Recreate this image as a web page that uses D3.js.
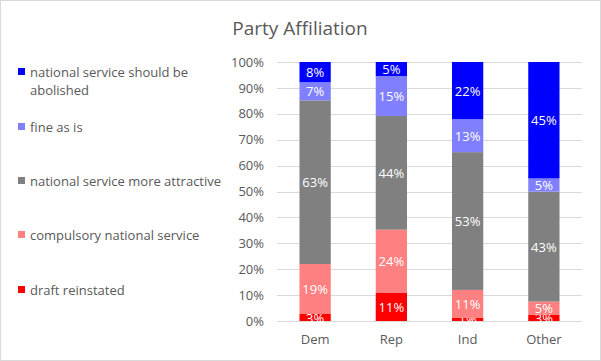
<!DOCTYPE html>
<html>
<head>
<meta charset="utf-8">
<script src="https://cdn.jsdelivr.net/npm/d3@7"></script>
<style>
  body { margin: 0; background: #fff; }
  text { font-family: "Open Sans", "Liberation Sans", sans-serif; }
</style>
</head>
<body>
<svg id="chart" width="601" height="361"></svg>
<script>
// data (percent)
var parties = ["Dem", "Rep", "Ind", "Other"];
var seriesNames = ["draft reinstated", "compulsory national service", "national service more attractive", "fine as is", "national service should be abolished"];
var draftReinstated = [2.7, 10.8, 1.2, 2.5];
var compulsory = [19.3, 24.4, 10.8, 5.0];
var moreAttractive = [63.2, 43.8, 53.2, 42.5];
var fineAsIs = [7.0, 15.4, 12.7, 5.1];
var abolished = [7.8, 5.4, 22.1, 45.0];
var colors = ["#ff0000", "#ff8080", "#808080", "#8080ff", "#0000ff"];
var yTicks = [0, 0.1, 0.2, 0.3, 0.4, 0.5, 0.6, 0.7, 0.8, 0.9, 1];

var allSeries = [draftReinstated, compulsory, moreAttractive, fineAsIs, abolished];
var rows = parties.map(function(p, i) {
  var r = { party: p };
  seriesNames.forEach(function(s, j) { r[s] = allSeries[j][i]; });
  return r;
});

var svg = d3.select("#chart");

// chart border
svg.append("rect").attr("x", 0.5).attr("y", 0.5).attr("width", 600).attr("height", 360)
  .attr("fill", "#fff").attr("stroke", "#d9d9d9");

svg.append("text").attr("x", 300).attr("y", 35).attr("text-anchor", "middle")
  .attr("font-size", 19).attr("fill", "#595959").text("Party Affiliation");

var x = d3.scaleBand().domain(parties).range([277, 582]).paddingInner(0.59).paddingOuter(0.295);
var y = d3.scaleLinear().domain([0, 1]).range([321, 62]);

// gridlines
svg.append("g").selectAll("line").data(yTicks).enter().append("line")
  .attr("x1", 277).attr("x2", 582)
  .attr("y1", d => Math.round(y(d)) + 0.5).attr("y2", d => Math.round(y(d)) + 0.5)
  .attr("stroke", "#d9d9d9");

var yAxis = svg.append("g").attr("transform", "translate(270,0)")
  .call(d3.axisLeft(y).tickValues(yTicks).tickFormat(d3.format(".0%")).tickSize(0).tickPadding(6));
yAxis.select(".domain").remove();
yAxis.selectAll("text").attr("font-size", 13).attr("fill", "#595959")
  .style("font-family", "'Open Sans', 'Liberation Sans', sans-serif");

var xAxis = svg.append("g").attr("transform", "translate(0,321)")
  .call(d3.axisBottom(x).tickSize(0).tickPadding(14));
xAxis.select(".domain").remove();
xAxis.selectAll("text").attr("font-size", 13).attr("fill", "#595959")
  .style("font-family", "'Open Sans', 'Liberation Sans', sans-serif");

var stack = d3.stack().keys(seriesNames).offset(d3.stackOffsetExpand);
var layers = stack(rows);

var groups = svg.append("g").selectAll("g").data(layers).enter().append("g")
  .attr("fill", (d, i) => colors[i]);

groups.selectAll("rect").data(d => d).enter().append("rect")
  .attr("x", d => x(d.data.party))
  .attr("width", x.bandwidth())
  .attr("y", d => y(d[1]))
  .attr("height", d => y(d[0]) - y(d[1]));

groups.selectAll("text").data(function(d) { var key = d.key; return d.map(v => ({ v: v, key: key })); })
  .enter().append("text")
  .attr("x", d => x(d.v.data.party) + x.bandwidth() / 2)
  .attr("y", d => (y(d.v[0]) + y(d.v[1])) / 2 + 5)
  .attr("text-anchor", "middle")
  .attr("font-size", 13)
  .attr("fill", "#fff")
  .text(d => Math.round(d.v.data[d.key]) + "%");

// legend, top entry first
var legendItems = [
  { lines: ["national service should be", "abolished"], y: 72, c: colors[4] },
  { lines: ["fine as is"], y: 127, c: colors[3] },
  { lines: ["national service more attractive"], y: 181, c: colors[2] },
  { lines: ["compulsory national service"], y: 235, c: colors[1] },
  { lines: ["draft reinstated"], y: 290, c: colors[0] }
];
var legend = svg.append("g").selectAll("g").data(legendItems).enter().append("g");
legend.append("rect").attr("x", 18).attr("y", d => d.y - 4).attr("width", 7).attr("height", 7)
  .attr("fill", d => d.c);
legend.append("text").attr("x", 30).attr("y", d => d.y + 4.5)
  .attr("font-size", 13).attr("fill", "#595959")
  .selectAll("tspan").data(d => d.lines).enter().append("tspan")
  .attr("x", 30).attr("dy", (d, i) => i ? 18 : 0).text(d => d);
</script>
</body>
</html>
